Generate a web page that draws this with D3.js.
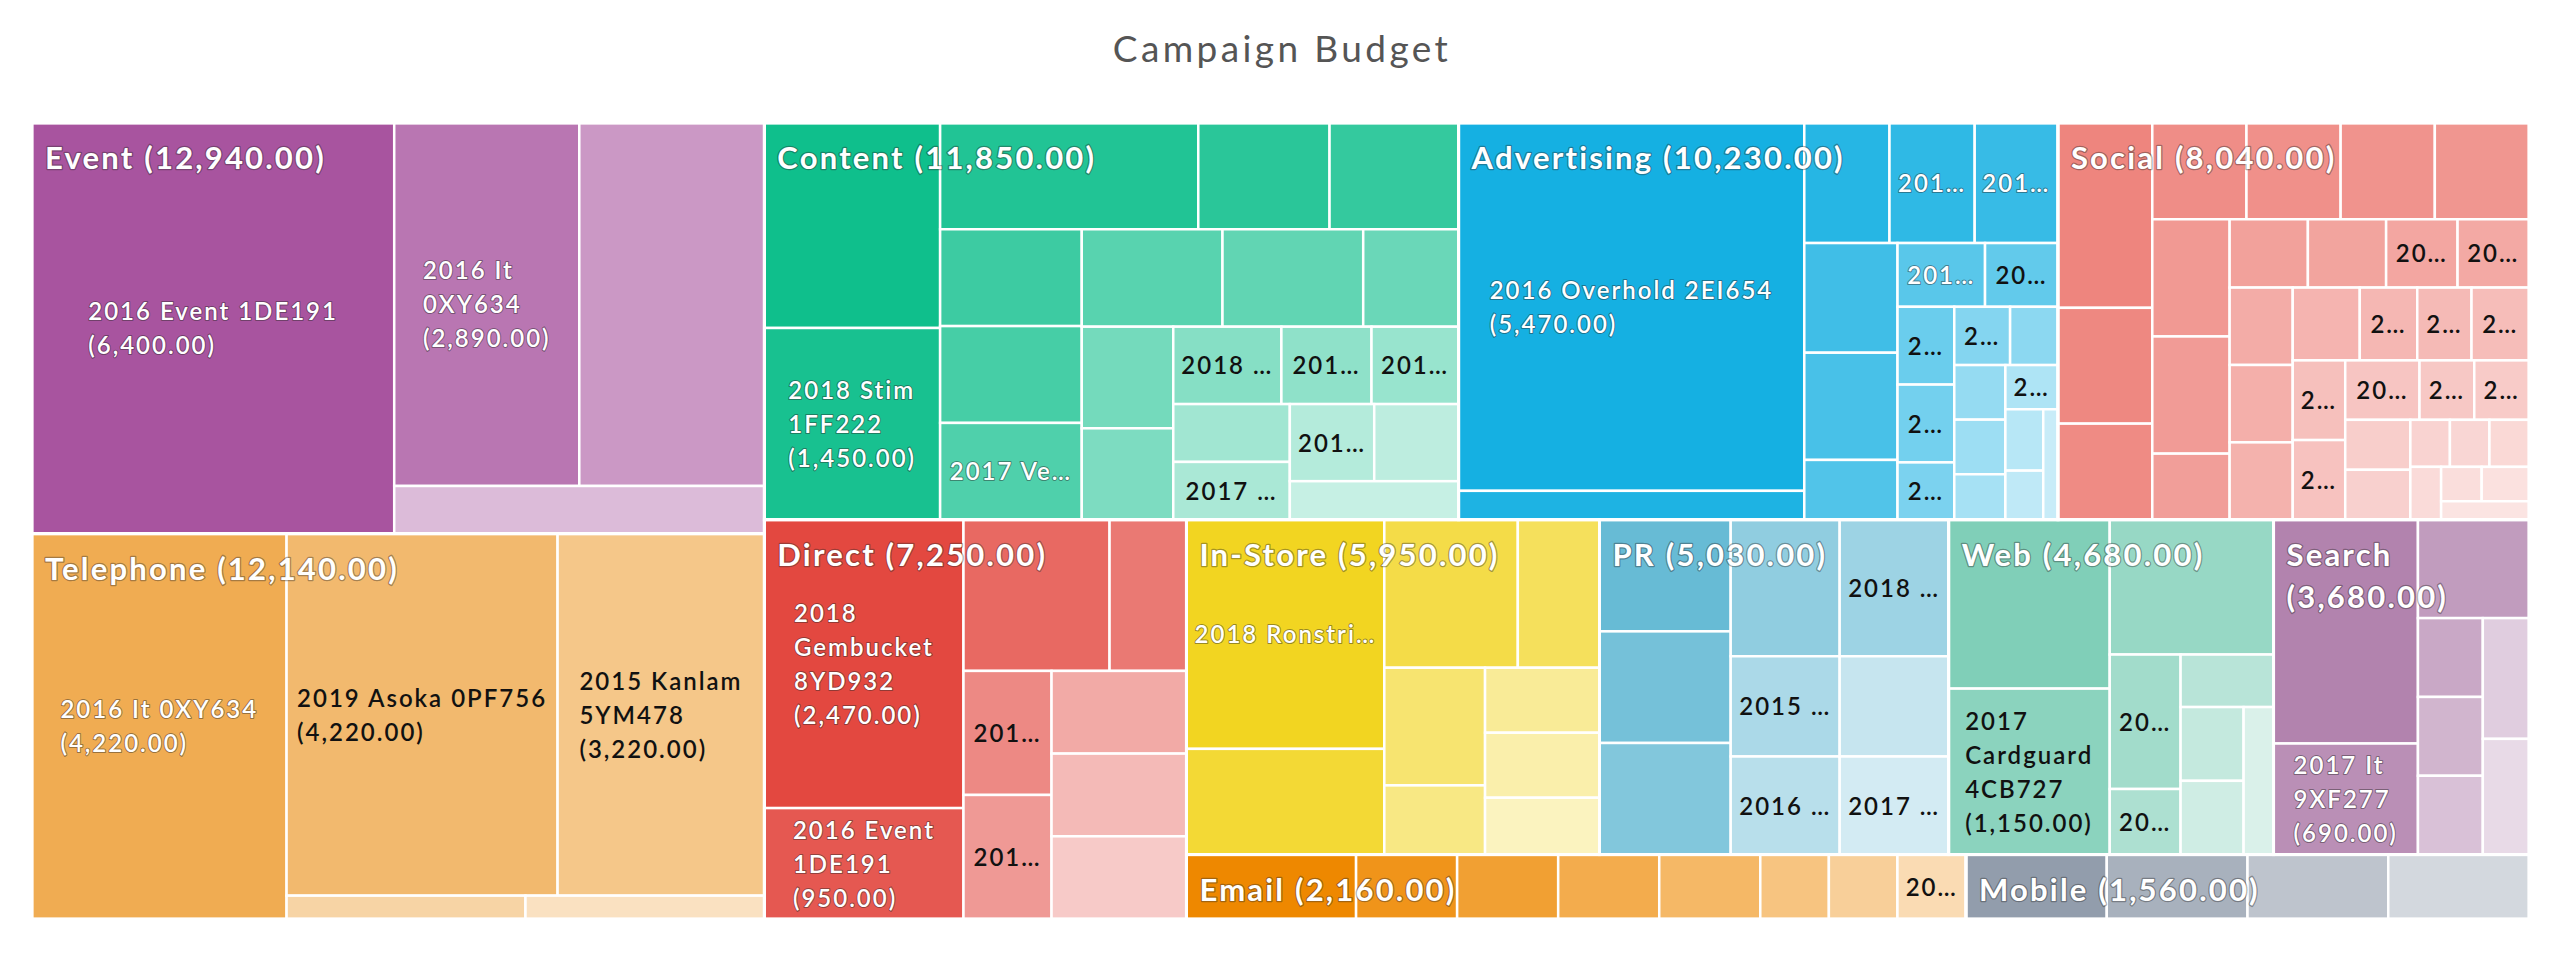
<!DOCTYPE html>
<html>
<head>
<meta charset="utf-8">
<script src="https://cdn.jsdelivr.net/npm/d3@7"></script>
<style>
  html, body { margin: 0; padding: 0; background: #fff; }
  svg { display: block; font-family: Lato, "Open Sans", sans-serif; }
</style>
</head>
<body>
<svg id="chart" width="2560" height="954"></svg>
<script>
// Campaign budget treemap: channels -> campaigns, laid out in alternating
// column/row strips (the strip counts say how many children go in each strip).

const fmt = d3.format(",.2f");

const categories = ["Event", "Telephone", "Content", "Advertising", "Social", "Direct",
  "In-Store", "PR", "Web", "Search", "Email", "Mobile"];
const categoryStrips = [2, 3, 1, 4, 1, 1];
const categoryColors = ["#a8549f", "#f0ac52", "#0fbf8c", "#15b0e2", "#ee857e", "#e34840",
  "#f2d521", "#67bbd5", "#80cfb8", "#b283ae", "#ee8800", "#929dac"];

// campaign values per channel, in drawing order
const eventValues = [6400, 2890, 2890, 760];
const telephoneValues = [4220, 4220, 3220, 240, 240];
const contentValues = [1550, 1450, 1180, 600, 590, 590, 590, 590, 590, 590, 400, 400,
  360, 360, 300, 290, 290, 290, 280, 280, 280];
const advertisingValues = [5470, 430, 440, 440, 430, 440, 430, 240, 240, 200, 190, 190,
  140, 140, 120, 120, 120, 100, 100, 100, 80, 70];
const socialValues = [750, 470, 390, 390, 390, 390, 390, 390, 390, 220, 230, 230, 210, 210,
  210, 210, 210, 210, 180, 170, 180, 180, 180, 190, 140, 140, 140, 140, 80, 80, 80, 70,
  60, 70, 70];
const directValues = [2470, 950, 950, 500, 470, 470, 480, 480, 480];
const inStoreValues = [1950, 900, 850, 520, 510, 300, 320, 320, 280];
const prValues = [630, 630, 630, 640, 640, 470, 460, 470, 460];
const webValues = [1170, 1150, 950, 410, 200, 210, 200, 200, 190];
const searchValues = [1390, 690, 470, 220, 220, 220, 240, 230];
const emailValues = [470, 280, 280, 280, 280, 190, 190, 190];
const mobileValues = [390, 390, 390, 390];

// visible campaign labels ("|" = line break, trailing "…" = truncated, no value line)
const eventLabels = ["2016 Event 1DE191", "2016 It|0XY634"];
const telephoneLabels = ["2016 It 0XY634", "2019 Asoka 0PF756", "2015 Kanlam|5YM478"];
const contentLabels = ["", "2018 Stim|1FF222", "", "", "", "", "", "2017 Ve…", "", "", "",
  "", "", "2018 …", "201…", "201…", "", "2017 …", "201…"];
const advertisingLabels = ["2016 Overhold 2EI654", "", "", "201…", "201…", "", "", "",
  "201…", "20…", "2…", "2…", "2…", "2…", "", "", "", "", "2…"];
const socialLabels = ["", "", "", "", "", "", "", "", "", "", "", "", "20…", "20…", "",
  "", "", "", "2…", "2…", "2…", "2…", "2…", "20…", "2…", "2…"];
const directLabels = ["2018|Gembucket|8YD932", "2016 Event|1DE191", "", "", "201…", "201…"];
const inStoreLabels = ["2018 Ronstri…"];
const prLabels = ["", "", "", "", "2018 …", "2015 …", "2016 …", "", "2017 …"];
const webLabels = ["", "2017|Cardguard|4CB727", "", "20…", "20…"];
const searchLabels = ["", "2017 It|9XF277"];
const emailLabels = ["", "", "", "", "", "", "", "20…"];
const mobileLabels = [];

// how many campaigns go into each alternating strip (column first)
const eventStrips = [1, 2, 1];
const telephoneStrips = [1, 2, 1, 1];
const contentStrips = [2, 3, 3, 3, 2, 3, 2, 2, 1];
const advertisingStrips = [2, 3, 3, 2, 3, 2, 3, 1, 2, 1];
const socialStrips = [3, 4, 3, 4, 3, 4, 2, 3, 2, 3, 1, 2, 1];
const directStrips = [2, 2, 2, 1, 2];
const inStoreStrips = [2, 2, 2, 1, 2];
const prStrips = [3, 2, 2, 1, 1];
const webStrips = [2, 1, 2, 1, 2, 1];
const searchStrips = [2, 1, 3, 1, 1];
const emailStrips = [1, 7];
const mobileStrips = [1, 3];

const groups = [
  [eventValues, eventLabels, eventStrips],
  [telephoneValues, telephoneLabels, telephoneStrips],
  [contentValues, contentLabels, contentStrips],
  [advertisingValues, advertisingLabels, advertisingStrips],
  [socialValues, socialLabels, socialStrips],
  [directValues, directLabels, directStrips],
  [inStoreValues, inStoreLabels, inStoreStrips],
  [prValues, prLabels, prStrips],
  [webValues, webLabels, webStrips],
  [searchValues, searchLabels, searchStrips],
  [emailValues, emailLabels, emailStrips],
  [mobileValues, mobileLabels, mobileStrips],
];

const root = d3.hierarchy({
  name: "root",
  strips: categoryStrips,
  children: categories.map((name, i) => ({
    name,
    color: categoryColors[i],
    strips: groups[i][2],
    children: groups[i][0].map((v, j) => ({ value: v, label: groups[i][1][j] || "" })),
  })),
}).sum((d) => d.value || 0);

// Alternate column (slice) and row (dice) strips; each strip takes the share of
// the remaining rectangle that its children's values ask for.
function stripTile(parent, x0, y0, x1, y1) {
  const kids = parent.children;
  let rest = parent.value, i = 0;
  parent.data.strips.forEach((n, r) => {
    const row = { children: kids.slice(i, i + n) };
    row.value = d3.sum(row.children, (d) => d.value);
    const last = i + n >= kids.length;
    if (r % 2 === 0) {
      const xe = last ? x1 : x0 + (x1 - x0) * row.value / rest;
      d3.treemapSlice(row, x0, y0, xe, y1);
      x0 = xe;
    } else {
      const ye = last ? y1 : y0 + (y1 - y0) * row.value / rest;
      d3.treemapDice(row, x0, y0, x1, ye);
      y0 = ye;
    }
    rest -= row.value;
    i += n;
  });
}

const plotW = 2497, plotH = 796, plotLeft = 32, plotTop = 123;
d3.treemap().size([plotW, plotH]).tile(stripTile)(root);

const svg = d3.select("#chart");

svg.append("text")
  .attr("x", 1282).attr("y", 62)
  .attr("text-anchor", "middle")
  .attr("font-size", 37).attr("letter-spacing", 3.4)
  .attr("fill", "#555")
  .text("Campaign Budget");

const g = svg.append("g").attr("transform", `translate(${plotLeft},${plotTop})`);

const leaves = root.leaves();
leaves.forEach((d) => {
  const sibs = d.parent.children;
  d.fill = d3.interpolateRgb(d.parent.data.color, "#fff")(0.8 * sibs.indexOf(d) / sibs.length);
});

g.append("g").selectAll("rect")
  .data(leaves)
  .join("rect")
  .attr("x", (d) => d.x0).attr("y", (d) => d.y0)
  .attr("width", (d) => d.x1 - d.x0).attr("height", (d) => d.y1 - d.y0)
  .attr("fill", (d) => d.fill)
  .attr("stroke", "#fff").attr("stroke-width", 2.5);

g.append("g").selectAll("rect")
  .data(root.children)
  .join("rect")
  .attr("x", (d) => d.x0).attr("y", (d) => d.y0)
  .attr("width", (d) => d.x1 - d.x0).attr("height", (d) => d.y1 - d.y0)
  .attr("fill", "none")
  .attr("stroke", "#fff").attr("stroke-width", 3);

// campaign labels: lines left-aligned, block centred in the cell
g.append("g").selectAll("text")
  .data(leaves.filter((d) => d.data.label))
  .join("text")
  .attr("font-size", 24).attr("font-weight", 600).attr("letter-spacing", 2)
  .each(function (d) {
    const dark = d3.hsl(d.fill).l > 0.65;
    const lines = d.data.label.endsWith("…")
      ? [d.data.label]
      : [...d.data.label.split("|"), `(${fmt(d.value)})`];
    const t = d3.select(this)
      .attr("fill", dark ? "#111" : "#fff")
      .attr("stroke", dark ? "none" : "rgba(40,40,40,0.45)")
      .attr("stroke-width", 2).attr("stroke-linejoin", "round")
      .attr("paint-order", "stroke");
    const cx = (d.x0 + d.x1) / 2, cy = (d.y0 + d.y1) / 2, lh = 34;
    lines.forEach((s, k) => {
      t.append("tspan").attr("x", 0)
        .attr("y", cy + (k - (lines.length - 1) / 2) * lh + 9)
        .text(s);
    });
    const w = this.getBBox().width;
    t.selectAll("tspan").attr("x", cx - w / 2);
  });

// channel labels at the top-left of each channel block
g.append("g").selectAll("text")
  .data(root.children)
  .join("text")
  .attr("font-size", 31).attr("font-weight", 700).attr("letter-spacing", 2.2)
  .attr("fill", "#fff")
  .attr("stroke", "rgba(40,40,40,0.4)").attr("stroke-width", 2.5)
  .attr("stroke-linejoin", "round").attr("paint-order", "stroke")
  .each(function (d) {
    const t = d3.select(this);
    const x = d.x0 + 13, y = d.y0 + 46;
    const full = `${d.data.name} (${fmt(d.value)})`;
    t.append("tspan").attr("x", x).attr("y", y).text(full);
    if (this.getComputedTextLength() > d.x1 - d.x0 - 20) {
      t.text(null);
      t.append("tspan").attr("x", x).attr("y", y).text(d.data.name);
      t.append("tspan").attr("x", x).attr("y", y + 42).text(`(${fmt(d.value)})`);
    }
  });
</script>
</body>
</html>
